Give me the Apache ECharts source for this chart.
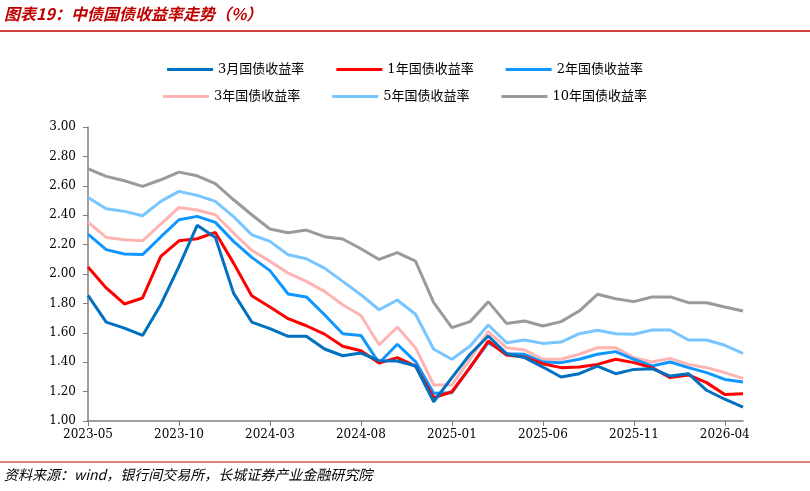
<!DOCTYPE html>
<html><head><meta charset="utf-8">
<script src="https://cdn.jsdelivr.net/npm/echarts@6/dist/echarts.min.js"></script>
<style>html,body{margin:0;padding:0;background:#fff}#c{width:810px;height:491px}</style>
</head><body><div id="c"></div>
<script>
const tickLabels=['2023-05','2023-10','2024-03','2024-08','2025-01','2025-06','2025-11','2026-04'];
const names=['3月国债收益率','1年国债收益率','2年国债收益率','3年国债收益率','5年国债收益率','10年国债收益率'];
const colors=['#0070c0','#ff0000','#0f97ff','#ffb4b4','#79c5ff','#9a9a9a'];
const m3=[1.854,1.673,1.632,1.582,1.791,2.052,2.331,2.249,1.870,1.673,1.628,1.576,1.576,1.490,1.444,1.462,1.410,
1.408,1.374,1.131,1.295,1.454,1.578,1.458,1.431,1.367,1.299,1.322,1.374,1.322,1.351,1.356,1.306,1.322,1.209,1.148,1.095];
const y1=[2.047,1.905,1.796,1.837,2.120,2.226,2.240,2.283,2.074,1.852,1.775,1.696,1.648,1.591,1.508,1.478,1.394,
1.431,1.374,1.158,1.199,1.363,1.544,1.449,1.435,1.390,1.363,1.367,1.385,1.420,1.397,1.363,1.295,1.313,1.261,1.181,1.186];
const y2=[2.272,2.166,2.136,2.132,2.252,2.369,2.392,2.351,2.222,2.113,2.023,1.864,1.844,1.723,1.594,1.582,1.394,
1.522,1.404,1.188,1.193,1.367,1.533,1.458,1.454,1.401,1.397,1.420,1.454,1.472,1.420,1.374,1.401,1.363,1.329,1.283,1.265];
const y3=[2.353,2.249,2.233,2.226,2.340,2.453,2.435,2.403,2.279,2.161,2.086,2.006,1.950,1.882,1.791,1.718,1.519,
1.639,1.499,1.245,1.245,1.420,1.608,1.499,1.483,1.420,1.420,1.454,1.499,1.499,1.431,1.401,1.426,1.385,1.363,1.329,1.290];
const y5=[2.521,2.444,2.426,2.396,2.494,2.562,2.535,2.494,2.390,2.267,2.222,2.131,2.104,2.040,1.950,1.859,1.757,
1.823,1.726,1.488,1.420,1.510,1.653,1.533,1.551,1.528,1.537,1.594,1.617,1.594,1.590,1.619,1.619,1.551,1.551,1.515,1.460];
const y10=[2.716,2.664,2.634,2.596,2.641,2.693,2.668,2.614,2.505,2.403,2.306,2.281,2.299,2.254,2.238,2.172,2.099,
2.145,2.088,1.805,1.635,1.676,1.812,1.664,1.680,1.646,1.676,1.748,1.862,1.832,1.812,1.844,1.844,1.805,1.805,1.776,1.748];
const all=[m3,y1,y2,y3,y5,y10];
const chart=echarts.init(document.getElementById('c'));
const serif='"DejaVu Serif","Liberation Serif","Noto Sans CJK SC",serif';
const legendBase={itemWidth:46,itemHeight:3,itemGap:32,textStyle:{fontFamily:serif,fontSize:13,color:'#000'},icon:'rect'};
chart.setOption({
  animation:false,
  grid:{left:88,right:67,top:127,bottom:70},
  legend:[Object.assign({top:58,left:'center',data:names.slice(0,3)},legendBase),
          Object.assign({top:85,left:'center',data:names.slice(3)},legendBase)],
  xAxis:{type:'value',min:0,max:36,interval:5,splitLine:{show:false},
    axisLine:{lineStyle:{color:'#7f7f7f',width:1.5}},axisTick:{show:true,length:5,lineStyle:{color:'#7f7f7f'}},
    axisLabel:{showMaxLabel:false,color:'#000',fontFamily:serif,fontSize:12,margin:8,formatter:v=>tickLabels[Math.round(v/5)]||''}},
  yAxis:{type:'value',min:1,max:3,interval:0.2,splitLine:{show:false},
    axisLine:{show:true,lineStyle:{color:'#7f7f7f',width:1.5}},axisTick:{show:true,length:5,lineStyle:{color:'#7f7f7f'}},
    axisLabel:{color:'#000',fontFamily:serif,fontSize:12,margin:12,formatter:v=>v.toFixed(2)}},
  series:all.map((d,i)=>({name:names[i],type:'line',symbol:'none',z:10-i,
    lineStyle:{width:3,color:colors[i]},itemStyle:{color:colors[i]},
    data:d.map((v,j)=>[j,v])})).reverse(),
  graphic:[
    {type:'text',left:4,top:6,style:{text:'图表19：中债国债收益率走势（%）',fill:'#c00000',font:'italic bold 16px "Noto Sans CJK SC"'}},
    {type:'line',shape:{x1:0,y1:31,x2:810,y2:31},style:{stroke:'#c00000',lineWidth:1.5}},
    {type:'line',shape:{x1:0,y1:462,x2:810,y2:462},style:{stroke:'#c00000',lineWidth:1}},
    {type:'text',left:4,top:468,style:{text:'资料来源：wind，银行间交易所，长城证券产业金融研究院',fill:'#000',font:'italic 14px "Noto Sans CJK SC"'}}
  ]
});
</script></body></html>
